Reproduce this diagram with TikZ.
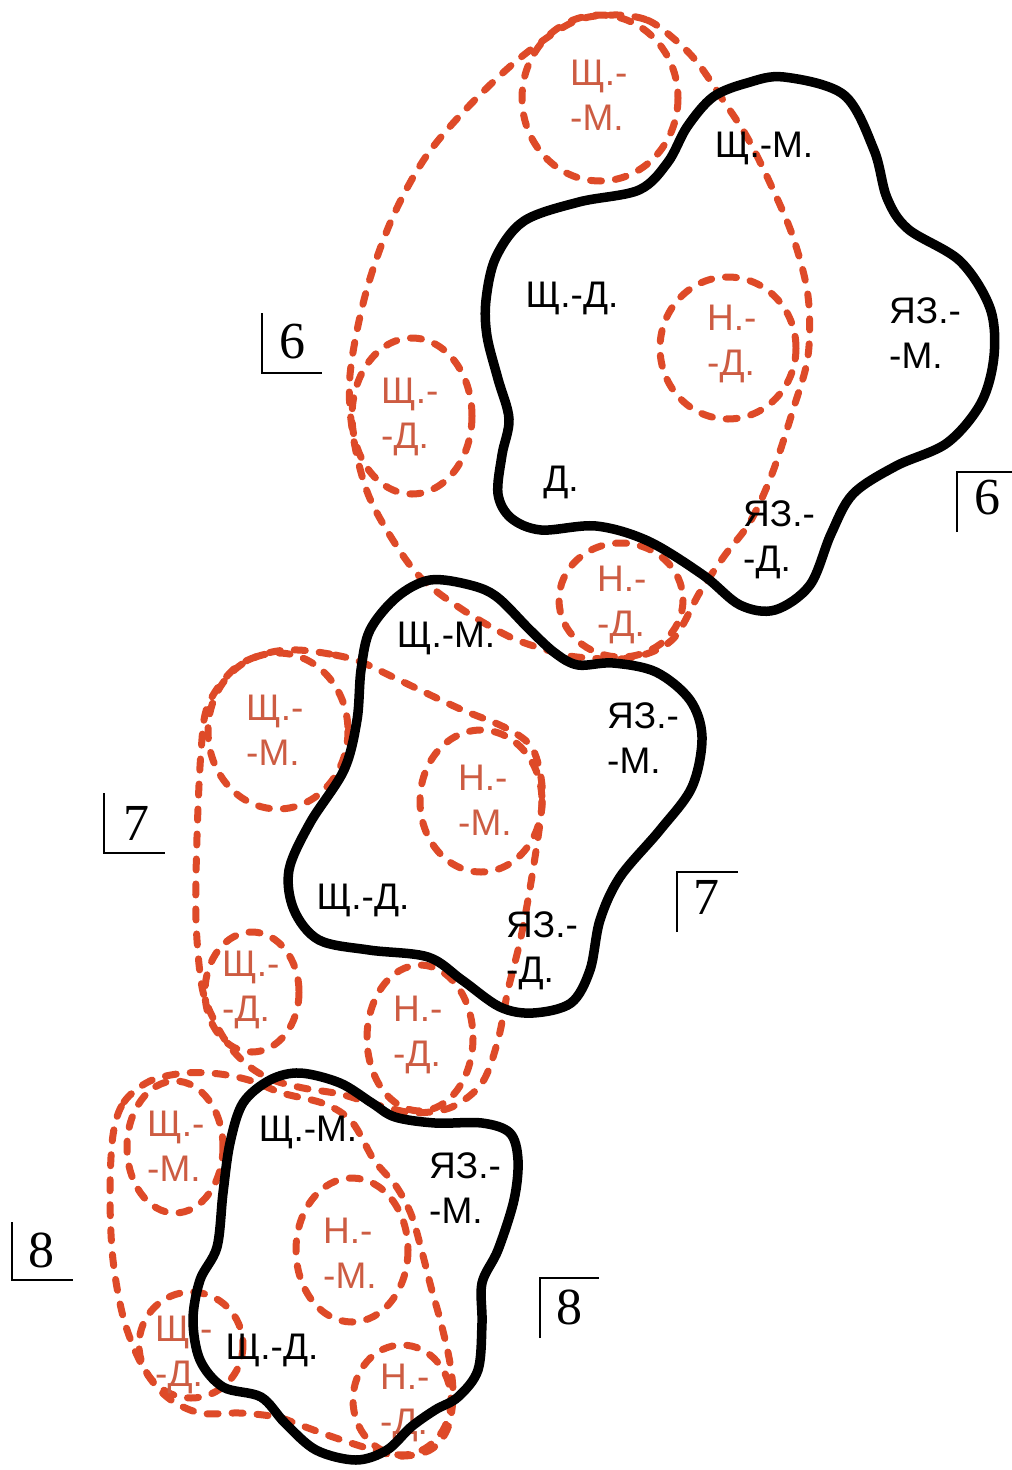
\documentclass[tikz,border=0pt]{standalone}
\usepackage{fontspec}
\setmainfont{Liberation Sans}
\newfontfamily\numfont{Liberation Serif}
\definecolor{redline}{RGB}{222,74,40}
\definecolor{redtext}{RGB}{205,92,66}
\begin{document}
\begin{tikzpicture}[x=1pt,y=-1pt,
  blob/.style={draw=black, line width=9.5pt, line join=round},
  rdash/.style={draw=redline, line width=7pt, dash pattern=on 11pt off 14pt, line cap=round},
  lbl/.style={font=\fontsize{37}{45}\selectfont, inner sep=0pt, align=left, text=black},
  rlbl/.style={lbl, text=redtext},
  num/.style={font=\numfont\fontsize{52}{52}\selectfont, inner sep=0pt},
  brk/.style={draw=black, line width=1.6pt}]
\useasboundingbox (0,0) rectangle (1012,1470);
\fill[white] (0,0) rectangle (1012,1470);

% ---------- red dashed loops and circles ----------
% region 6
\draw[rdash] plot[smooth cycle, tension=0.55] coordinates {(613,15) (647,20) (673,38) (697,62) (723,100) (747,137) (770,183) (793,237) (808,296) (808,356) (793,410) (772,474) (750,522) (725,555) (700,592) (672,640) (630,658) (577,657) (547,650) (510,637) (463,610) (423,580) (396,545) (368,494) (353,435) (350,375) (365,296) (391,221) (425,158) (468,107) (520,58) (573,22)};
\draw[rdash] (600,98) ellipse [x radius=78, y radius=83];
\draw[rdash] (412,416) ellipse [x radius=60, y radius=78];
\draw[rdash] (728,348) ellipse [x radius=68, y radius=71];
\draw[rdash] (621,600) ellipse [x radius=62, y radius=57];
% region 7
\draw[rdash] plot[smooth cycle, tension=0.55] coordinates {(298,650) (335,655) (361,662) (395,678) (458,708) (504,727) (530,745) (540,772) (542,805) (533,870) (521,937) (508,990) (498,1040) (482,1083) (452,1107) (417,1113) (397,1110) (370,1103) (340,1094) (303,1088) (273,1080) (250,1067) (230,1047) (214,1020) (202,987) (196,920) (197,837) (201,752) (208,705) (235,668) (268,653)};
\draw[rdash] (278,731) ellipse [x radius=70, y radius=78];
\draw[rdash] (481,801) ellipse [x radius=61, y radius=71];
\draw[rdash] (252,992) ellipse [x radius=47, y radius=60];
\draw[rdash] (420,1038) ellipse [x radius=53, y radius=73];
% region 8
\draw[rdash] plot[smooth cycle, tension=0.55] coordinates {(113,1135) (124,1102) (150,1081) (185,1073) (220,1074) (252,1081) (282,1093) (325,1104) (352,1122) (374,1160) (396,1186) (411,1214) (421,1248) (431,1287) (441,1323) (450,1363) (453,1398) (447,1430) (430,1450) (400,1456) (367,1448) (333,1437) (300,1425) (277,1417) (240,1413) (200,1413) (167,1397) (143,1367) (124,1320) (113,1260) (110,1195)};
\draw[rdash] (175,1147) ellipse [x radius=48, y radius=66];
\draw[rdash] (352,1250) ellipse [x radius=56, y radius=72];
\draw[rdash] (191,1345) ellipse [x radius=52, y radius=53];
\draw[rdash] (402,1400) ellipse [x radius=49, y radius=55];

% ---------- red labels ----------
\node[rlbl, anchor=west] (r6sm) at (570,95) {Щ.-\\-М.};
\node[rlbl, anchor=west] (r6nd) at (707,344) {Н.-\\-Д.};
\node[rlbl, anchor=west] (r6sd) at (381,417) {Щ.-\\-Д.};
\node[rlbl, anchor=west] (r6nd2) at (597,605) {Н.-\\-Д.};
\node[rlbl, anchor=west] (r7sm) at (246,730) {Щ.-\\-М.};
\node[rlbl, anchor=west] (r7nm) at (458,800) {Н.-\\-М.};
\node[rlbl, anchor=west] (r7sd) at (222,990) {Щ.-\\-Д.};
\node[rlbl, anchor=west] (r7nd) at (393,1035) {Н.-\\-Д.};
\node[rlbl, anchor=west] (r8sm) at (147,1146) {Щ.-\\-М.};
\node[rlbl, anchor=west] (r8nm) at (323,1253) {Н.-\\-М.};
\node[rlbl, anchor=west] (r8sd) at (155,1355) {Щ.-\\-Д.};
\node[rlbl, anchor=west] (r8nd) at (380,1403) {Н.-\\-Д.};

% ---------- black blobs ----------
\draw[blob] plot[smooth cycle, tension=0.55] coordinates {(747,83) (784,77) (844,95) (874,150) (887,198) (908,229) (960,261) (990,308) (994,356) (981,403) (947,443) (896,466) (853,494) (831,534) (810,585) (775,610) (740,605) (703,575) (648,541) (596,526) (541,530) (511,518) (498,494) (502,455) (509,419) (498,379) (487,336) (486,300) (496,257) (524,221) (579,202) (639,190) (668,162) (687,127) (713,97)};
\draw[blob] plot[smooth cycle, tension=0.55] coordinates {(430,580) (470,585) (497,597) (530,630) (555,653) (578,665) (613,663) (656,672) (690,700) (702,737) (692,787) (660,830) (620,877) (600,920) (590,970) (571,1003) (533,1013) (500,1007) (462,980) (428,957) (369,950) (319,940) (294,910) (289,870) (310,823) (344,770) (357,720) (361,670) (370,630) (397,597)};
\draw[blob] plot[smooth cycle, tension=0.55] coordinates {(300,1073) (340,1083) (372,1103) (395,1117) (435,1123) (482,1123) (510,1133) (518,1160) (514,1200) (498,1250) (482,1283) (482,1323) (478,1370) (458,1397) (435,1410) (411,1427) (387,1450) (356,1460) (316,1450) (285,1423) (261,1397) (223,1387) (200,1360) (193,1320) (200,1280) (217,1247) (223,1193) (230,1143) (243,1103) (270,1080)};

% ---------- black labels ----------
\node[lbl] (b6sm) at (764,148) {Щ.-М.};
\node[lbl] (b6sd) at (572,298) {Щ.-Д.};
\node[lbl, anchor=west] (b6jm) at (889,333) {ЯЗ.-\\-М.};
\node[lbl] (b6d) at (561,482) {Д.};
\node[lbl, anchor=west] (b6jd) at (743,540) {ЯЗ.-\\-Д.};
\node[lbl] (b7sm) at (446,638) {Щ.-М.};
\node[lbl, anchor=west] (b7jm) at (607,738) {ЯЗ.-\\-М.};
\node[lbl] (b7sd) at (363,900) {Щ.-Д.};
\node[lbl, anchor=west] (b7jd) at (506,951) {ЯЗ.-\\-Д.};
\node[lbl] (b8sm) at (308,1132) {Щ.-М.};
\node[lbl, anchor=west] (b8jm) at (429,1188) {ЯЗ.-\\-М.};
\node[lbl] (b8sd) at (272,1350) {Щ.-Д.};

% ---------- section marks ----------
\draw[brk] (262,313) -- (262,373) -- (322,373);
\node[num] (n6l) at (292,342) {6};
\draw[brk] (957,532) -- (957,472) -- (1012,472);
\node[num] (n6r) at (987,498) {6};
\draw[brk] (104,793) -- (104,853) -- (165,853);
\node[num] (n7l) at (136,823) {7};
\draw[brk] (677,932) -- (677,872) -- (738,872);
\node[num] (n7r) at (706,897) {7};
\draw[brk] (12,1222) -- (12,1280) -- (73,1280);
\node[num] (n8l) at (41,1250) {8};
\draw[brk] (540,1338) -- (540,1278) -- (599,1278);
\node[num] (n8r) at (569,1307) {8};
\end{tikzpicture}
\end{document}
